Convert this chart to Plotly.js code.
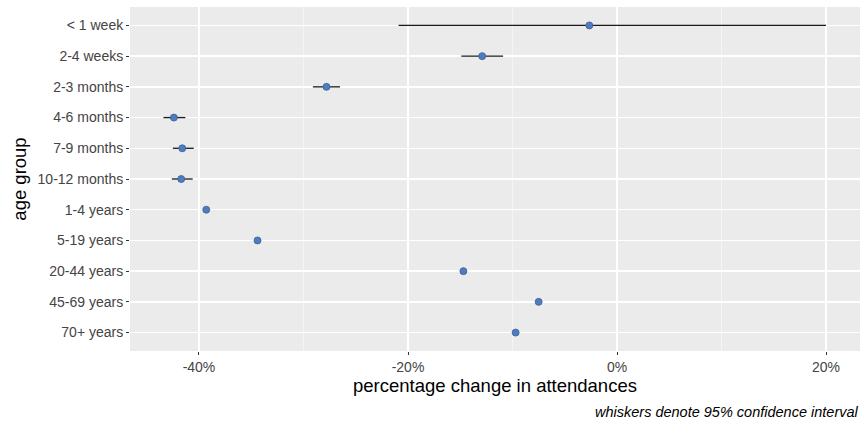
<!DOCTYPE html>
<html>
<head>
<meta charset="utf-8">
<script src="https://cdn.plot.ly/plotly-3.0.1.min.js"></script>
<style>html,body{margin:0;padding:0;background:#fff;}#chart{width:867px;height:423px;}</style>
</head>
<body>
<div id="chart"></div>
<script>
const ageGroups = ["< 1 week","2-4 weeks","2-3 months","4-6 months","7-9 months","10-12 months","1-4 years","5-19 years","20-44 years","45-69 years","70+ years"];
const pctChange = [-2.65, -12.9, -27.8, -42.4, -41.6, -41.7, -39.3, -34.4, -14.7, -7.5, -9.7];
const ciLower   = [-20.9, -14.9, -29.1, -43.4, -42.5, -42.6, -39.5, -34.5, -14.8, -7.6, -9.8];
const ciUpper   = [20.0, -10.9, -26.5, -41.3, -40.5, -40.6, -39.1, -34.3, -14.6, -7.4, -9.6];
const xTicks = [-40, -20, 0, 20];
const xTickLabels = ["-40%", "-20%", "0%", "20%"];

const plus = pctChange.map((v, i) => ciUpper[i] - v);
const minus = pctChange.map((v, i) => v - ciLower[i]);

const trace = {
  type: 'scatter',
  mode: 'markers',
  x: pctChange,
  y: ageGroups,
  marker: {color: '#4f7bbf', size: 7, line: {color: '#3a5f9a', width: 0.8}},
  error_x: {type: 'data', symmetric: false, array: plus, arrayminus: minus, width: 0, color: '#1a1a1a', thickness: 1.3},
  hoverinfo: 'skip'
};

const layout = {
  width: 867, height: 423,
  margin: {l: 130, r: 7, t: 7, b: 72},
  paper_bgcolor: '#ffffff',
  plot_bgcolor: '#ebebeb',
  font: {family: 'Liberation Sans, Arial, sans-serif', color: '#444444', size: 14},
  showlegend: false,
  xaxis: {
    range: [-46.6, 23.25],
    tickvals: xTicks, ticktext: xTickLabels,
    showgrid: true, gridcolor: '#ffffff', gridwidth: 1.3,
    zeroline: false,
    ticks: 'outside', ticklen: 3, tickcolor: '#333333', tickwidth: 1,
    tickfont: {size: 14, color: '#444444'},
    minor: {tickvals: [-30, -10, 10], showgrid: true, gridcolor: '#f7f7f7', gridwidth: 0.8, ticks: ''},
    showline: false,
    title: {text: 'percentage change in attendances', font: {size: 18.5, color: '#000000'}, standoff: 4}
  },
  yaxis: {
    type: 'category',
    categoryorder: 'array', categoryarray: ageGroups,
    range: [10.6, -0.6],
    showgrid: true, gridcolor: '#ffffff', gridwidth: 1.3,
    zeroline: false,
    ticks: 'outside', ticklen: 3, tickcolor: '#333333', tickwidth: 1,
    tickfont: {size: 14, color: '#444444'},
    showline: false,
    title: {text: 'age group', font: {size: 18.5, color: '#000000'}, standoff: 6}
  },
  shapes: [{type: 'line', xref: 'x', yref: 'paper', x0: 0, x1: 0, y0: 0, y1: 1, line: {color: '#000000', width: 1}, layer: 'below'}],
  annotations: [{
    text: 'whiskers denote 95% confidence interval',
    xref: 'paper', yref: 'paper', x: 1, y: 0, xanchor: 'right', yanchor: 'middle',
    yshift: -61, showarrow: false,
    font: {size: 14.5, color: '#000000', family: 'Liberation Sans, Arial, sans-serif'}
  }]
};

Plotly.newPlot('chart', [trace], layout, {displayModeBar: false, staticPlot: true}).then(() => {
  document.querySelectorAll('.annotation-text').forEach(el => el.style.fontStyle = 'italic');
});
</script>
</body>
</html>
